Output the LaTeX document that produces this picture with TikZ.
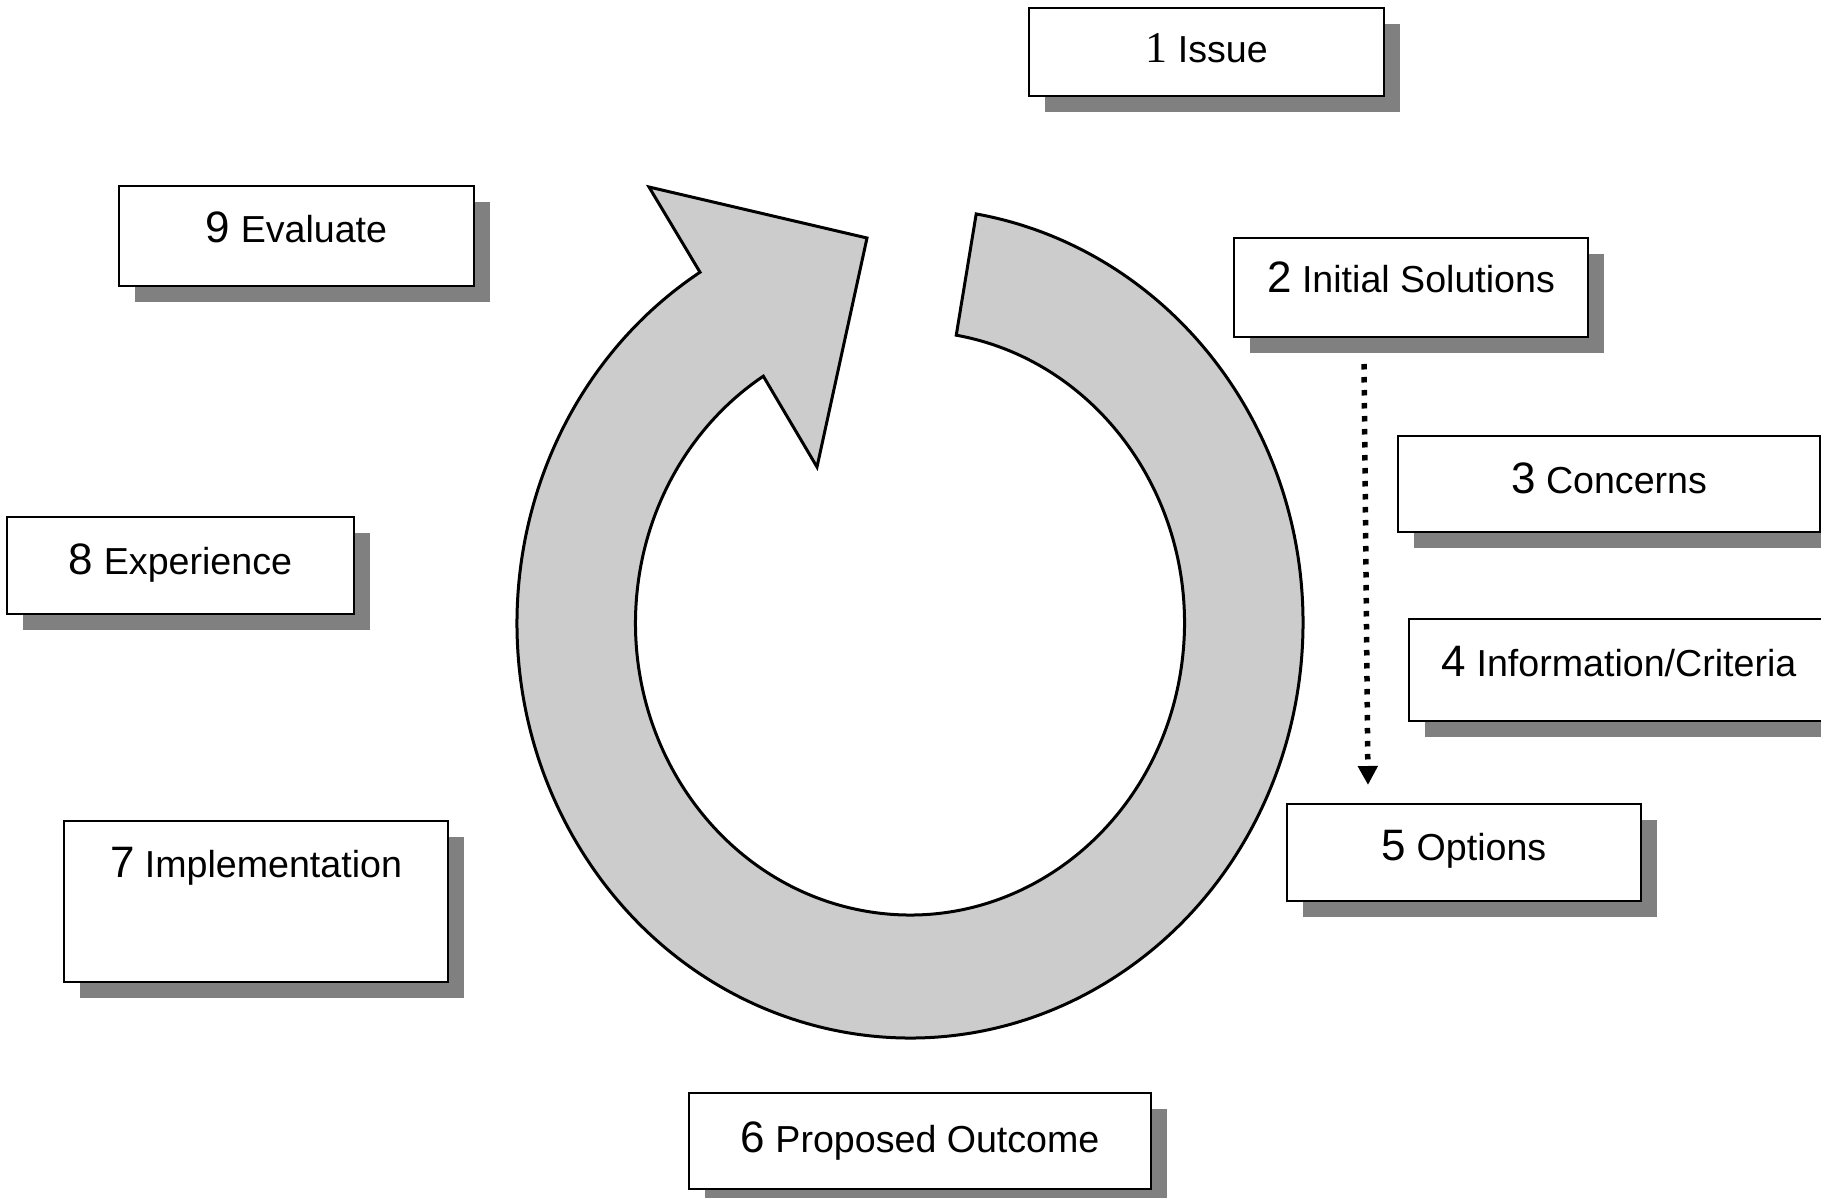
\documentclass[tikz,border=0pt]{standalone}
\usepackage{fontspec}
\setmainfont{Liberation Sans}
\newfontfamily\timesfam{Liberation Serif}
\usetikzlibrary{shadows,arrows.meta,calc}
\definecolor{shadowgray}{RGB}{128,128,128}
\definecolor{ringgray}{RGB}{204,204,204}
\newcommand\bignum[1]{{\fontsize{44}{50}\selectfont #1}}
\begin{document}
\begin{tikzpicture}[x=1pt,y=-1pt,
  box/.style={draw=black, line width=2pt, fill=white, inner sep=0pt, anchor=north west,
    drop shadow={shadow xshift=16pt, shadow yshift=-16pt, fill=shadowgray, opacity=1}},
  lbl/.style={anchor=base, inner sep=0pt, font=\fontsize{37.6}{46}\selectfont},
  ring/.style={draw=black, line width=3pt, fill=ringgray, line join=miter},
  dotarrow/.style={line width=5.5pt, dash pattern=on 5.5pt off 7.5pt, -{Triangle[width=19pt,length=19pt]}}]
\useasboundingbox (0,0) rectangle (1821,1198);
% circular arrow
\coordinate (c) at (910,623);
\draw[ring] (c) ++(-122.3:393 and 415)
  arc[start angle=-122.3, end angle=-440.3, x radius=393, y radius=415]
  -- ($(c)+(-440.3:274.5 and 292)$)
  arc[start angle=-440.3, end angle=-122.3, x radius=274.5, y radius=292]
  -- (817,467) -- (867,238) -- (649,187) -- cycle;
% boxes
\node[box, minimum width=355pt, minimum height=88pt] (b1) at (1028,7) {};
\node[box, minimum width=354pt, minimum height=99pt] (b2) at (1233,237) {};
\node[box, minimum width=422pt, minimum height=96pt] (b3) at (1397,435) {};
\node[box, minimum width=420pt, minimum height=102pt] (b4) at (1408,618) {};
\node[box, minimum width=354pt, minimum height=97pt] (b5) at (1286,803) {};
\node[box, minimum width=462pt, minimum height=96pt] (b6) at (688,1092) {};
\node[box, minimum width=384pt, minimum height=161pt] (b7) at (63,820) {};
\node[box, minimum width=347pt, minimum height=97pt] (b8) at (6,516) {};
\node[box, minimum width=355pt, minimum height=100pt] (b9) at (118,185) {};
% labels
\node[lbl] (t1) at ([yshift=-56pt]b1.north) {{\timesfam\bignum{1}} Issue};
\node[lbl] (t2) at ([yshift=-56pt]b2.north) {\bignum{2} Initial Solutions};
\node[lbl] (t3) at ([yshift=-58pt]b3.north) {\bignum{3} Concerns};
\node[lbl] (t4) at ([yshift=-58pt]b4.north) {\bignum{4} Information/Criteria};
\node[lbl] (t5) at ([yshift=-57pt]b5.north) {\bignum{5} Options};
\node[lbl] (t6) at ([yshift=-60pt]b6.north) {\bignum{6} Proposed Outcome};
\node[lbl] (t7) at ([yshift=-57pt]b7.north) {\bignum{7} Implementation};
\node[lbl] (t8) at ([yshift=-58pt]b8.north) {\bignum{8} Experience};
\node[lbl] (t9) at ([yshift=-58pt]b9.north) {\bignum{9} Evaluate};
% dotted connector
\coordinate (d1) at (1364,364);
\coordinate (d2) at (1368,785);
\draw[dotarrow] (d1) -- (d2);
\end{tikzpicture}
\end{document}
